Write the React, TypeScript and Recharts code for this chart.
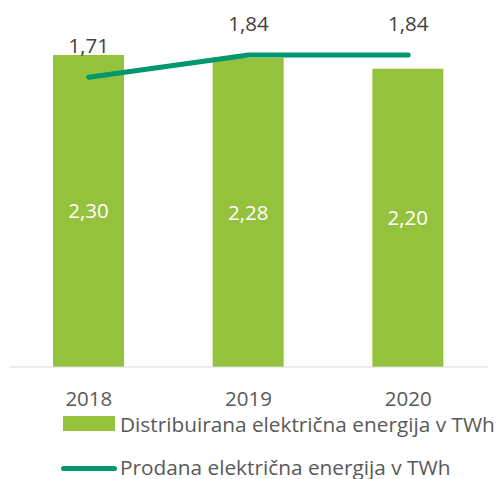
import { ComposedChart, Bar, Line, XAxis, YAxis, LabelList, Legend } from "recharts";

const years = ["2018", "2019", "2020"];
const distributed = [2.3, 2.28, 2.2];
const sold = [1.71, 1.84, 1.84];

const BAR_NAME = "Distribuirana električna energija v TWh";
const LINE_NAME = "Prodana električna energija v TWh";

const BAR_COLOR = "#95c23d";
const LINE_COLOR = "#00966e";
const FONT = "'Open Sans', sans-serif";

const data = years.map((year, i) => ({
  year,
  distributed: distributed[i],
  sold: sold[i],
}));

const fmt = (v: any) => Number(v).toFixed(2).replace(".", ",");

function LegendBox() {
  const text = {
    fontFamily: FONT,
    fontSize: 20.8,
    lineHeight: "20px",
    color: "#595959",
    whiteSpace: "nowrap" as const,
  };
  return (
    <div style={{ position: "relative", height: 72, width: 502 }}>
      <div style={{ position: "absolute", left: 63, top: 9, width: 52, height: 15, background: BAR_COLOR }} />
      <div style={{ ...text, position: "absolute", left: 120, top: 7 }}>{BAR_NAME}</div>
      <div
        style={{ position: "absolute", left: 61, top: 59, width: 56, height: 5, borderRadius: 3, background: LINE_COLOR }}
      />
      <div style={{ ...text, position: "absolute", left: 120, top: 50 }}>{LINE_NAME}</div>
    </div>
  );
}

export default function App() {
  return (
    <div style={{ position: "absolute", left: 0, top: 0, background: "#fff" }}>
      <ComposedChart width={502} height={479} data={data} margin={{ top: 28, right: 14, bottom: 0, left: 9 }}>
        <XAxis
          dataKey="year"
          height={40}
          axisLine={{ stroke: "#d9d9d9" }}
          tickLine={false}
          tickMargin={18}
          tick={{ fontFamily: FONT, fontSize: 20.5, fill: "#595959" }}
        />
        <YAxis yAxisId="left" hide domain={[0, 2.5]} />
        <YAxis yAxisId="right" orientation="right" hide domain={[0, 2.0]} />
        <Legend verticalAlign="bottom" content={() => <LegendBox />} wrapperStyle={{ left: 0, width: 502 }} />
        <Bar yAxisId="left" dataKey="distributed" name={BAR_NAME} fill={BAR_COLOR} barSize={71} isAnimationActive={false}>
          <LabelList
            dataKey="distributed"
            position="center"
            formatter={fmt}
            style={{ fontFamily: FONT, fontSize: 20.5, fill: "#ffffff" }}
          />
        </Bar>
        <Line
          yAxisId="right"
          dataKey="sold"
          name={LINE_NAME}
          stroke={LINE_COLOR}
          strokeWidth={5}
          strokeLinecap="round"
          dot={false}
          isAnimationActive={false}
        >
          <LabelList
            dataKey="sold"
            position="top"
            offset={24}
            formatter={fmt}
            style={{ fontFamily: FONT, fontSize: 20.5, fill: "#404040" }}
          />
        </Line>
      </ComposedChart>
    </div>
  );
}
